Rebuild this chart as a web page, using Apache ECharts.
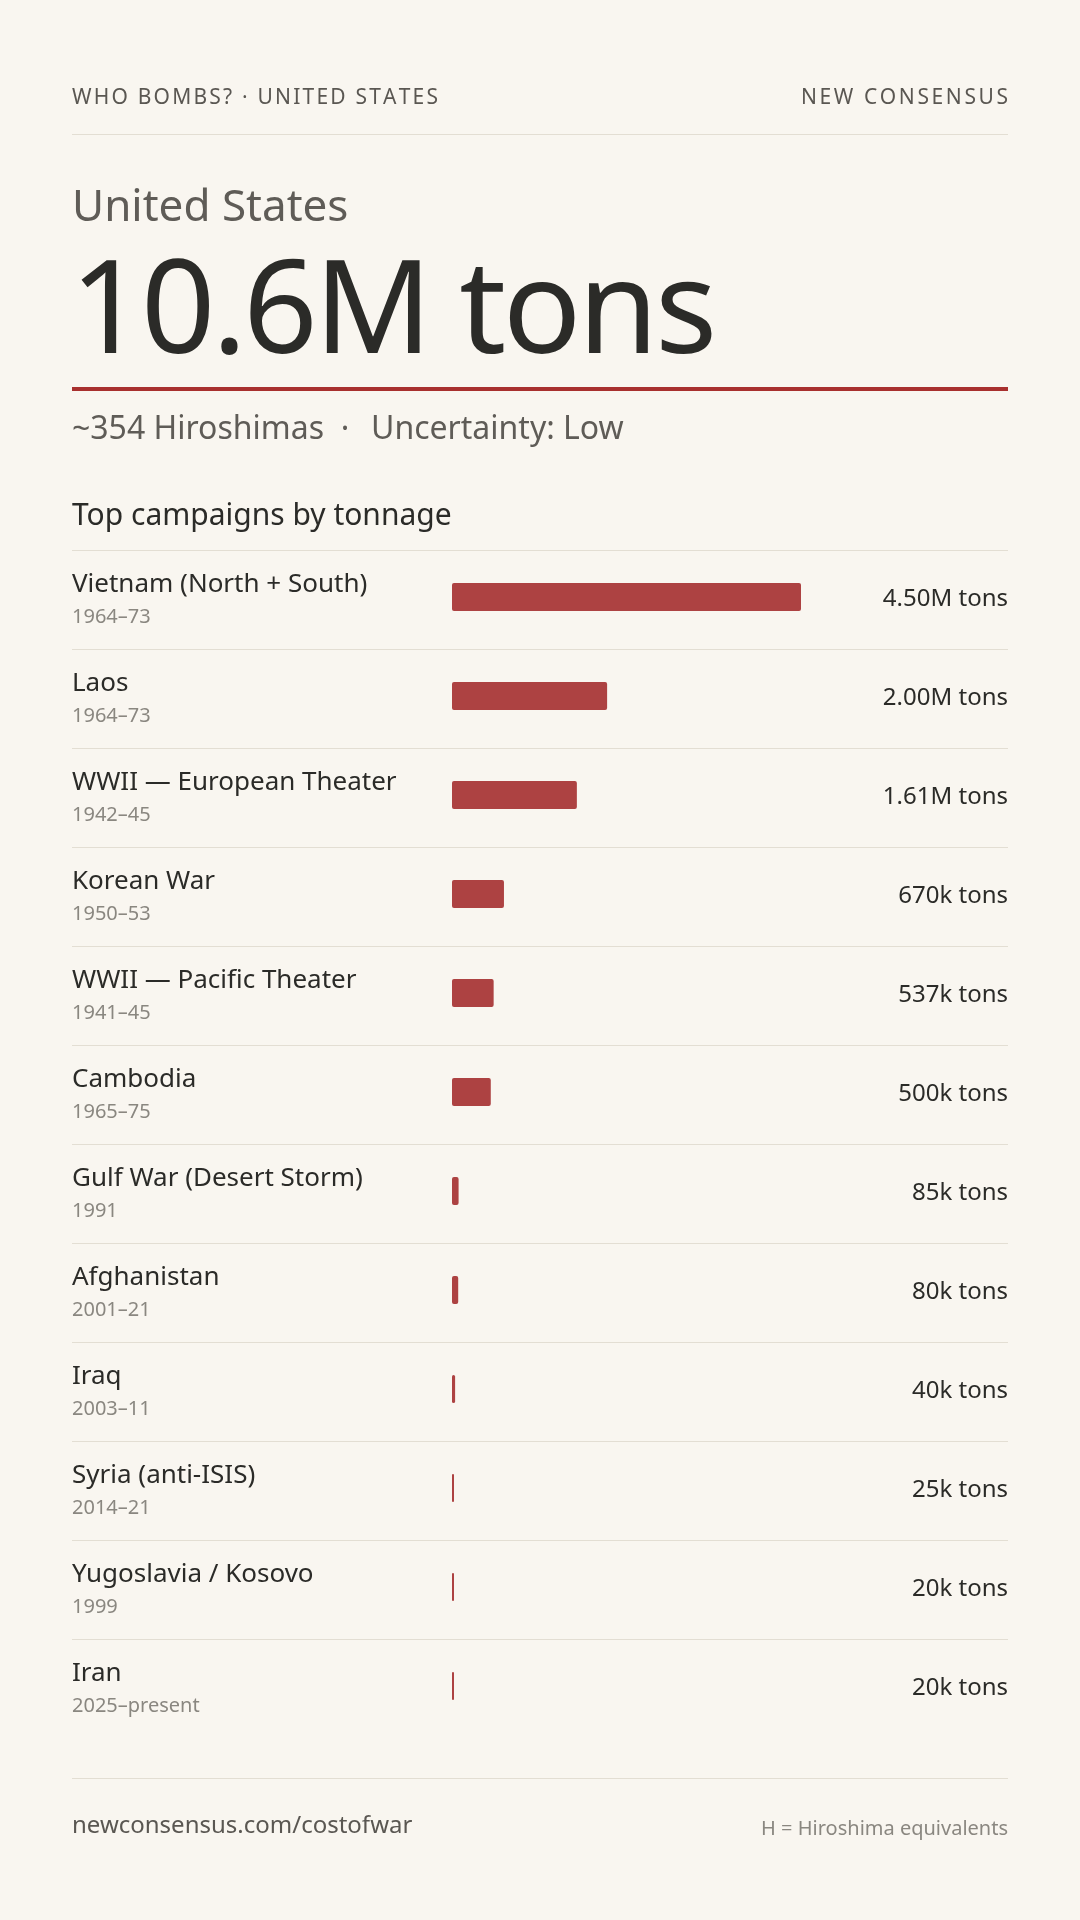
<!DOCTYPE html>
<html>
<head>
<meta charset="utf-8">
<script src="https://cdn.jsdelivr.net/npm/echarts@6/dist/echarts.min.js"></script>
<style>
html,body{margin:0;padding:0;background:#f9f6f0;}
#chart{width:1080px;height:1920px;}
</style>
</head>
<body>
<div id="chart"></div>
<script>
// ---- data ----
var campaigns = ['Vietnam (North + South)','Laos','WWII — European Theater','Korean War','WWII — Pacific Theater','Cambodia','Gulf War (Desert Storm)','Afghanistan','Iraq','Syria (anti-ISIS)','Yugoslavia / Kosovo','Iran'];
var years = ['1964–73','1964–73','1942–45','1950–53','1941–45','1965–75','1991','2001–21','2003–11','2014–21','1999','2025–present'];
var tons = [4500000,2000000,1610000,670000,537000,500000,85000,80000,40000,25000,20000,20000];
var headerLeft = 'WHO BOMBS? · UNITED STATES';
var headerRight = 'NEW CONSENSUS';
var countryName = 'United States';
var totalLabel = '10.6M tons';
var subLeft = '~354 Hiroshimas';
var subDot = '·';
var subRight = 'Uncertainty: Low';
var sectionTitle = 'Top campaigns by tonnage';
var footerLeft = 'newconsensus.com/costofwar';
var footerRight = 'H = Hiroshima equivalents';

var FONT = '"Noto Sans", "Open Sans", sans-serif';
var fmt = function(v){
  return v >= 1e6 ? (v/1e6).toFixed(2) + 'M tons' : Math.round(v/1000) + 'k tons';
};
var valueLabels = tons.map(fmt);

// letter-spaced text helper (group of single-char texts)
var mctx = document.createElement('canvas').getContext('2d');
function spaced(str, size, spacing, color, x, y, alignRight){
  mctx.font = size + 'px ' + FONT;
  var widths = [], total = 0;
  for (var i=0;i<str.length;i++){ var w = mctx.measureText(str[i]).width; widths.push(w); total += w + (i<str.length-1?spacing:0); }
  var cx = alignRight ? x - total : x;
  var children = [];
  for (var j=0;j<str.length;j++){
    children.push({type:'text', x:cx, y:y, style:{text:str[j], fill:color, font:size+'px '+FONT, textVerticalAlign:'middle', textAlign:'left'}});
    cx += widths[j] + spacing;
  }
  return {type:'group', children:children};
}

var chart = echarts.init(document.getElementById('chart'));
var L = 72, R = 1008, TOP = 550, ROWH = 99;
var option = {
  backgroundColor:'#f9f6f0',
  animation:false,
  textStyle:{fontFamily:FONT},
  graphic:[
    spaced(headerLeft, 21, 2.2, '#5a5752', L, 98.5, false),
    spaced(headerRight, 21, 2.6, '#5a5752', R, 98.5, true),
    {type:'rect', shape:{x:L, y:134, width:R-L, height:1}, style:{fill:'#e3ded3'}},
    {type:'text', x:L, y:208.5, style:{text:countryName, fill:'#5f5c57', font:'44px '+FONT, textVerticalAlign:'middle'}},
    spaced(totalLabel, 130, -3.4, '#2b2b28', L-2, 316, false),
    {type:'rect', shape:{x:L, y:387, width:R-L, height:4}, style:{fill:'#a8302e'}},
    {type:'text', x:L, y:430, style:{text:subLeft, fill:'#5f5c57', font:'32px '+FONT, textVerticalAlign:'middle'}},
    {type:'text', x:345, y:430, style:{text:subDot, fill:'#5f5c57', font:'32px '+FONT, textVerticalAlign:'middle', textAlign:'center'}},
    {type:'text', x:371, y:430, style:{text:subRight, fill:'#5f5c57', font:'32px '+FONT, textVerticalAlign:'middle'}},
    {type:'text', x:L, y:516.5, style:{text:sectionTitle, fill:'#2b2b28', font:'30px '+FONT, textVerticalAlign:'middle'}},
    {type:'rect', shape:{x:L, y:1778, width:R-L, height:1}, style:{fill:'#e3ded3'}},
    {type:'text', x:L, y:1826, style:{text:footerLeft, fill:'#5a5752', font:'24px '+FONT, textVerticalAlign:'middle'}},
    {type:'text', x:R, y:1829, style:{text:footerRight, fill:'#8a8780', font:'20px '+FONT, textVerticalAlign:'middle', textAlign:'right'}}
  ],
  grid:[
    {left:L, right:1080-R, top:TOP, height:ROWH*campaigns.length, containLabel:false},
    {left:452, width:349, top:TOP-2.5, height:ROWH*campaigns.length, containLabel:false}
  ],
  xAxis:[
    {gridIndex:0, type:'value', show:false, min:0, max:1},
    {gridIndex:1, type:'value', show:false, min:0, max:Math.max.apply(null,tons)}
  ],
  yAxis:[
    {gridIndex:0, type:'category', inverse:true, data:campaigns,
     axisLine:{show:false}, axisTick:{show:false},
     splitLine:{show:true, showMaxLine:false, lineStyle:{color:'#e3ded3', width:1}},
     axisLabel:{inside:true, margin:0, align:'left', padding:[3,0,0,0],
       formatter:function(v, i){ return '{n|'+v+'}\n{y|'+years[i]+'}'; },
       rich:{
         n:{fontFamily:FONT, fontSize:26, color:'#2b2b28', lineHeight:33},
         y:{fontFamily:FONT, fontSize:20, color:'#8a8780', lineHeight:33}
       }}},
    {gridIndex:0, type:'category', inverse:true, position:'right', data:valueLabels,
     axisLine:{show:false}, axisTick:{show:false}, splitLine:{show:false},
     axisLabel:{inside:true, margin:0, align:'right', padding:[4,0,0,0], fontFamily:FONT, fontSize:24, color:'#2b2b28'}},
    {gridIndex:1, type:'category', inverse:true, data:campaigns, show:false}
  ],
  series:[
    {type:'bar', xAxisIndex:1, yAxisIndex:2, data:tons, barWidth:28, barMinHeight:2,
     itemStyle:{color:'#ad4242', borderRadius:2}, silent:true}
  ]
};
chart.setOption(option);
</script>
</body>
</html>
